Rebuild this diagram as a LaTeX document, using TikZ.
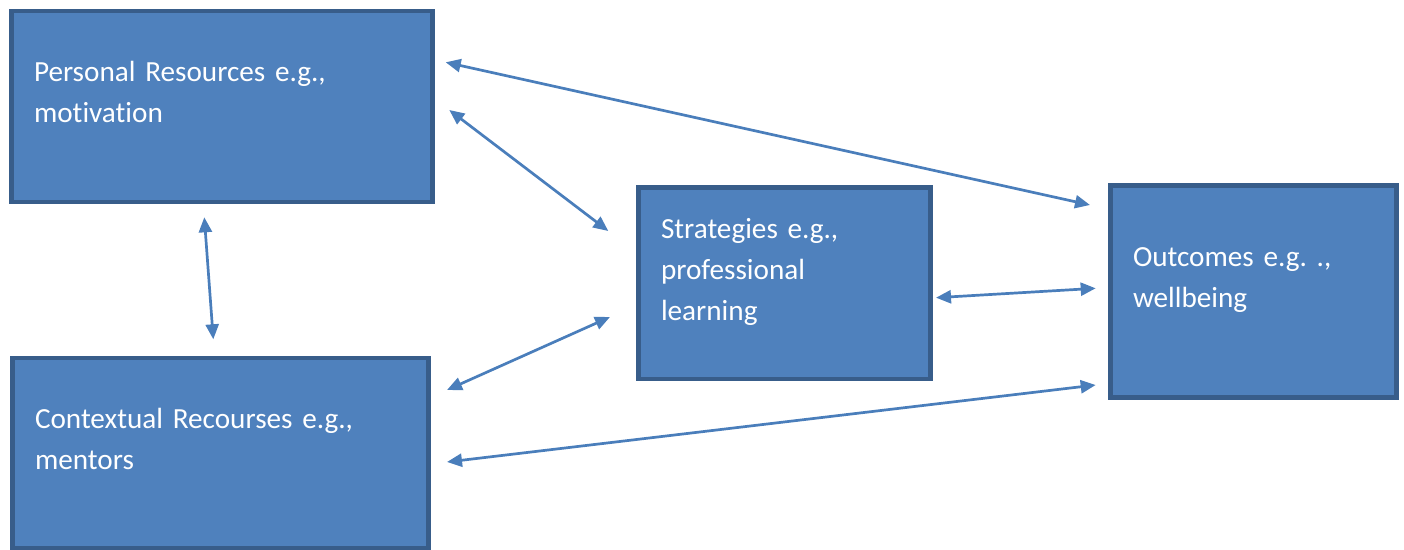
\documentclass[tikz,border=0pt]{standalone}
\usepackage{fontspec}
\setmainfont{Carlito}[Ligatures=NoCommon]
\usetikzlibrary{arrows.meta}
\definecolor{boxfill}{HTML}{4F81BD}
\definecolor{boxline}{HTML}{385D8A}
\definecolor{linkline}{HTML}{4A7EBB}
\newcommand\boxgap{\strut\par\vspace*{12.3pt}}
\frenchspacing
\begin{document}
\begin{tikzpicture}[x=.5pt,y=-.5pt,
		box/.style={draw=boxline,fill=boxfill,line width=2.25pt,outer sep=0pt,text=white,align=left,
			font=\fontsize{14.6pt}{20.5pt}\selectfont,
			execute at begin node=\strut,execute at end node=\boxgap},
		link/.style={linkline,line width=1.35pt,{Triangle[length=7.5pt,width=6.5pt]}-{Triangle[length=7.5pt,width=6.5pt]}}]
	\useasboundingbox (0,0) rectangle (1404,550);
	\node[box,minimum width=210.5pt,minimum height=95.5pt,text width=188pt] (pers) at (222,106.5) {Personal Resources e.g.,\\motivation};
	\node[box,minimum width=208pt,minimum height=95pt,text width=185.5pt] (ctx) at (220.5,453) {Contextual Recourses e.g.,\\mentors};
	\node[box,minimum width=146pt,minimum height=95.75pt,text width=123.5pt] (strat) at (784.5,283.25) {Strategies e.g.,\\professional\\learning};
	\node[box,minimum width=143pt,minimum height=106pt,text width=120.5pt] (out) at (1253.5,291.5) {Outcomes e.g. .,\\wellbeing};
	\draw[link] ([shift={(13.2,-44.2)}]pers.east) -- ([shift={(-20.5,-86.5)}]out.west);
	\draw[link] ([shift={(16.8,3.5)}]pers.east) -- ([shift={(-30.2,-52.25)}]strat.west);
	\draw[link] ([shift={(-17.7,15.3)}]pers.south) -- ([shift={(-7.2,-18.7)}]ctx.north);
	\draw[link] ([shift={(18.5,-63)}]ctx.east) -- ([shift={(-28.5,33.75)}]strat.west);
	\draw[link] ([shift={(5.5,14.45)}]strat.east) -- ([shift={(-14.8,-3.2)}]out.west);
	\draw[link] ([shift={(18.5,9)}]ctx.east) -- ([shift={(-14.8,93.5)}]out.west);
\end{tikzpicture}
\end{document}
